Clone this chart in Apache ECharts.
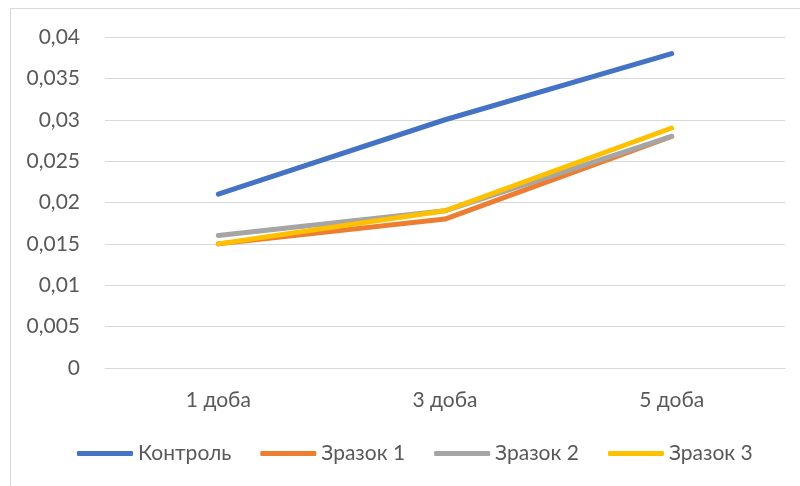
<!DOCTYPE html>
<html>
<head>
<meta charset="utf-8">
<script src="https://cdn.jsdelivr.net/npm/echarts@6/dist/echarts.min.js"></script>
<style>
  html, body { margin: 0; padding: 0; background: #ffffff; }
  #chart { width: 800px; height: 486px; }
</style>
</head>
<body>
<div id="chart"></div>
<script>
// Days of observation
const categories = ['1 доба', '3 доба', '5 доба'];

// Measured values per sample
const kontrol = [0.021, 0.030, 0.038];
const zrazok1 = [0.015, 0.018, 0.028];
const zrazok2 = [0.016, 0.019, 0.028];
const zrazok3 = [0.015, 0.019, 0.029];

const seriesNames = ['Контроль', 'Зразок 1', 'Зразок 2', 'Зразок 3'];
const seriesData = [kontrol, zrazok1, zrazok2, zrazok3];
const colors = ['#4472C4', '#ED7D31', '#A5A5A5', '#FFC000'];

const FONT = 'Lato, "Open Sans", sans-serif';
const TEXT = '#595959';

const chart = echarts.init(document.getElementById('chart'), null, { renderer: 'canvas' });

chart.setOption({
  backgroundColor: '#ffffff',
  animation: false,
  color: colors,
  graphic: [
    { type: 'line', shape: { x1: 10.5, y1: 8.5, x2: 800, y2: 8.5 }, style: { stroke: '#D9D9D9', lineWidth: 1 } },
    { type: 'line', shape: { x1: 10.5, y1: 8.5, x2: 10.5, y2: 486 }, style: { stroke: '#D9D9D9', lineWidth: 1 } }
  ],
  grid: { left: 105, right: 15, top: 37, bottom: 118, containLabel: false },
  legend: {
    data: seriesNames,
    bottom: 17,
    left: 72,
    icon: 'roundRect',
    itemWidth: 56,
    itemHeight: 5,
    itemGap: 29,
    textStyle: { color: TEXT, fontFamily: FONT, fontSize: 21 }
  },
  xAxis: {
    type: 'category',
    data: categories,
    boundaryGap: true,
    axisLine: { lineStyle: { color: '#D9D9D9', width: 1 } },
    axisTick: { show: false },
    axisLabel: { color: TEXT, fontFamily: FONT, fontSize: 21, margin: 22 }
  },
  yAxis: {
    type: 'value',
    min: 0,
    max: 0.04,
    interval: 0.005,
    axisLine: { show: false },
    axisTick: { show: false },
    splitLine: { lineStyle: { color: '#D9D9D9', width: 1 } },
    axisLabel: {
      color: TEXT, fontFamily: FONT, fontSize: 21, margin: 25,
      formatter: v => (v === 0 ? '0' : String(+v.toFixed(3)).replace('.', ','))
    }
  },
  series: seriesNames.map((name, i) => ({
    name,
    type: 'line',
    data: seriesData[i],
    symbol: 'none',
    lineStyle: { width: 5, color: colors[i], cap: 'round', join: 'round' },
    itemStyle: { color: colors[i] }
  }))
});
</script>
</body>
</html>
